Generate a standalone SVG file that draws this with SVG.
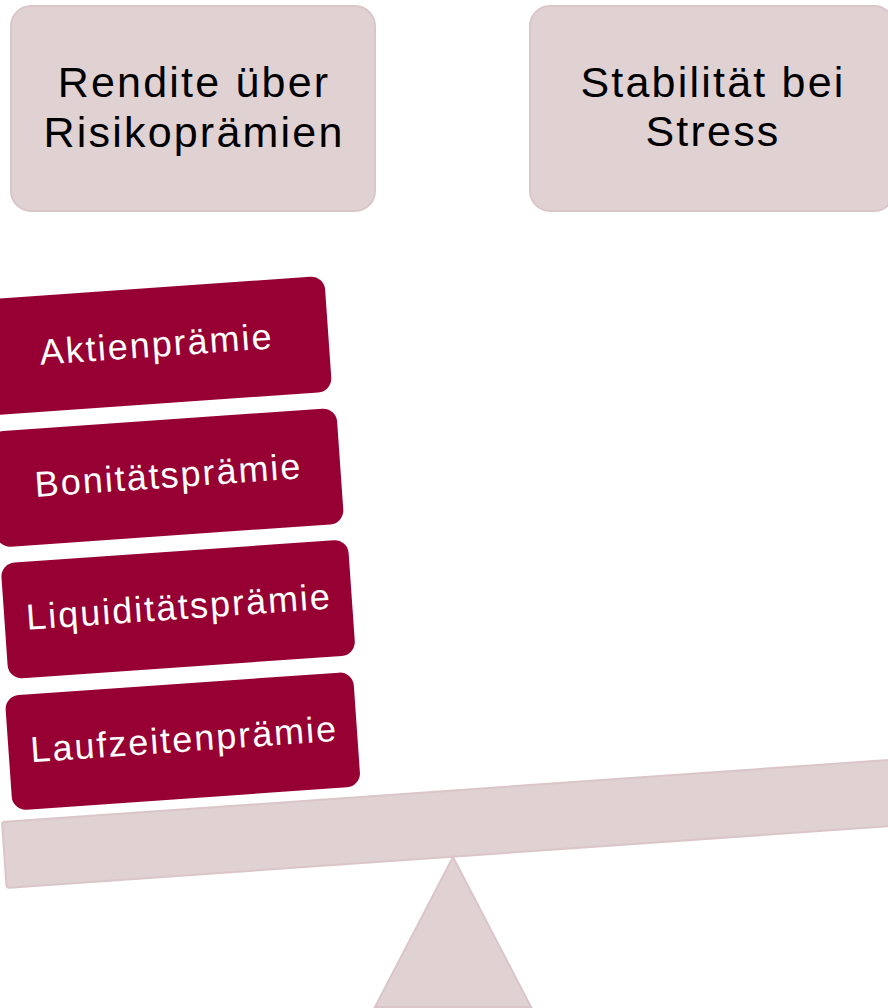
<svg xmlns="http://www.w3.org/2000/svg" width="888" height="1008" viewBox="0 0 888 1008">
  <style>
    .pink { fill: #E0D1D3; stroke: #DAC6C9; stroke-width: 2; }
    .red { fill: #970033; }
    .head { font-family: "Liberation Sans", Arial, sans-serif; font-size: 43px; letter-spacing: 2.2px; fill: #000; text-anchor: middle; }
    .lab { font-family: "Liberation Sans", Arial, sans-serif; font-size: 36px; letter-spacing: 2px; fill: #fff; text-anchor: middle; }
  </style>
  <rect width="888" height="1008" fill="#fff"/>

  <g id="node-rendite">
    <rect class="pink" x="11" y="6" width="364" height="205" rx="20"/>
    <text class="head" x="194" y="97">Rendite über</text>
    <text class="head" x="194" y="147">Risikoprämien</text>
  </g>

  <g id="node-stabilitaet">
    <rect class="pink" x="530" y="6" width="364" height="205" rx="20"/>
    <text class="head" x="713" y="97">Stabilität bei</text>
    <text class="head" x="713" y="146">Stress</text>
  </g>

  <g id="fulcrum">
    <polygon class="pink" points="453,857 375,1007 531,1007"/>
  </g>

  <g id="beam">
    <rect class="pink" x="0" y="0" width="1000" height="66" rx="3" transform="translate(2,822) rotate(-4)"/>
  </g>

  <g id="node-aktien" transform="translate(-23,300) rotate(-4)">
    <rect class="red" x="0" y="0" width="348" height="116" rx="14"/>
    <text class="lab" x="176" y="69">Aktienprämie</text>
  </g>

  <g id="node-bonitaet" transform="translate(-11,432) rotate(-4)">
    <rect class="red" x="0" y="0" width="348" height="116" rx="14"/>
    <text class="lab" x="176" y="68">Bonitätsprämie</text>
  </g>

  <g id="node-liquiditaet" transform="translate(0.5,563.5) rotate(-4)">
    <rect class="red" x="0" y="0" width="348" height="116" rx="14"/>
    <text class="lab" x="175" y="68">Liquiditätsprämie</text>
  </g>

  <g id="node-laufzeit" transform="translate(4.7,696) rotate(-4)">
    <rect class="red" x="0" y="0" width="349" height="115" rx="14"/>
    <text class="lab" x="176" y="68">Laufzeitenprämie</text>
  </g>

  <g id="connectors"></g>
</svg>
